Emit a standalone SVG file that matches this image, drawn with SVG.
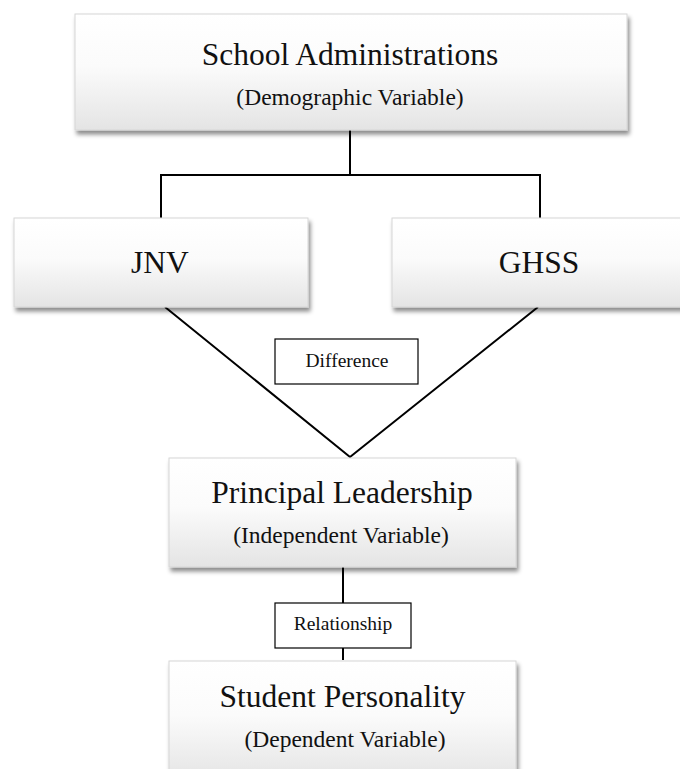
<svg xmlns="http://www.w3.org/2000/svg" width="680" height="769" viewBox="0 0 680 769">
<defs>
<linearGradient id="g" x1="0" y1="0" x2="0" y2="1">
<stop offset="0" stop-color="#ffffff"/>
<stop offset="0.45" stop-color="#fbfbfb"/>
<stop offset="1" stop-color="#e4e4e4"/>
</linearGradient>
<filter id="sh" x="-5%" y="-5%" width="115%" height="125%">
<feDropShadow dx="2" dy="4" stdDeviation="2.2" flood-color="#000" flood-opacity="0.45"/>
</filter>
</defs>
<style>
.box{fill:url(#g);stroke:#d6d6d6;stroke-width:1;filter:url(#sh)}
.lbl{fill:#fff;stroke:#000;stroke-width:1.2}
.t{fill:#111;text-anchor:middle}
.big{font-size:31.5px}
.sub{font-size:23.5px}
.sm{font-size:19.5px}
.ln{stroke:#000;stroke-width:2;fill:none}
</style>
<rect width="680" height="769" fill="#fff"/>
<g id="connectors">
<path class="ln" d="M350 130V175M161 175H540M161 174V218M540 174V218"/>
<path class="ln" d="M165 307L350 457L538 307"/>
<path class="ln" d="M343 567V660"/>
</g>
<g font-family="Liberation Serif, Times New Roman, serif">
<g id="school">
<rect class="box" x="75" y="14" width="552" height="116"/>
<text class="t big" x="350" y="65">School Administrations</text>
<text class="t sub" x="350" y="105">(Demographic Variable)</text>
</g>
<g id="jnv">
<rect class="box" x="14" y="218" width="294" height="89"/>
<text class="t big" x="160" y="273">JNV</text>
</g>
<g id="ghss">
<rect class="box" x="392" y="218" width="292" height="89"/>
<text class="t big" x="539" y="273">GHSS</text>
</g>
<g id="difference">
<rect class="lbl" x="275" y="339" width="143" height="45"/>
<text class="t sm" x="347" y="367">Difference</text>
</g>
<g id="principal">
<rect class="box" x="169" y="458" width="347" height="109"/>
<text class="t big" x="342" y="503">Principal Leadership</text>
<text class="t sub" x="341" y="543">(Independent Variable)</text>
</g>
<g id="relationship">
<rect class="lbl" x="275" y="603" width="136" height="45"/>
<text class="t sm" x="343" y="630">Relationship</text>
</g>
<g id="student">
<rect class="box" x="169" y="661" width="347" height="120"/>
<text class="t big" x="342.5" y="707">Student Personality</text>
<text class="t sub" x="345" y="747">(Dependent Variable)</text>
</g>
</g>
</svg>
